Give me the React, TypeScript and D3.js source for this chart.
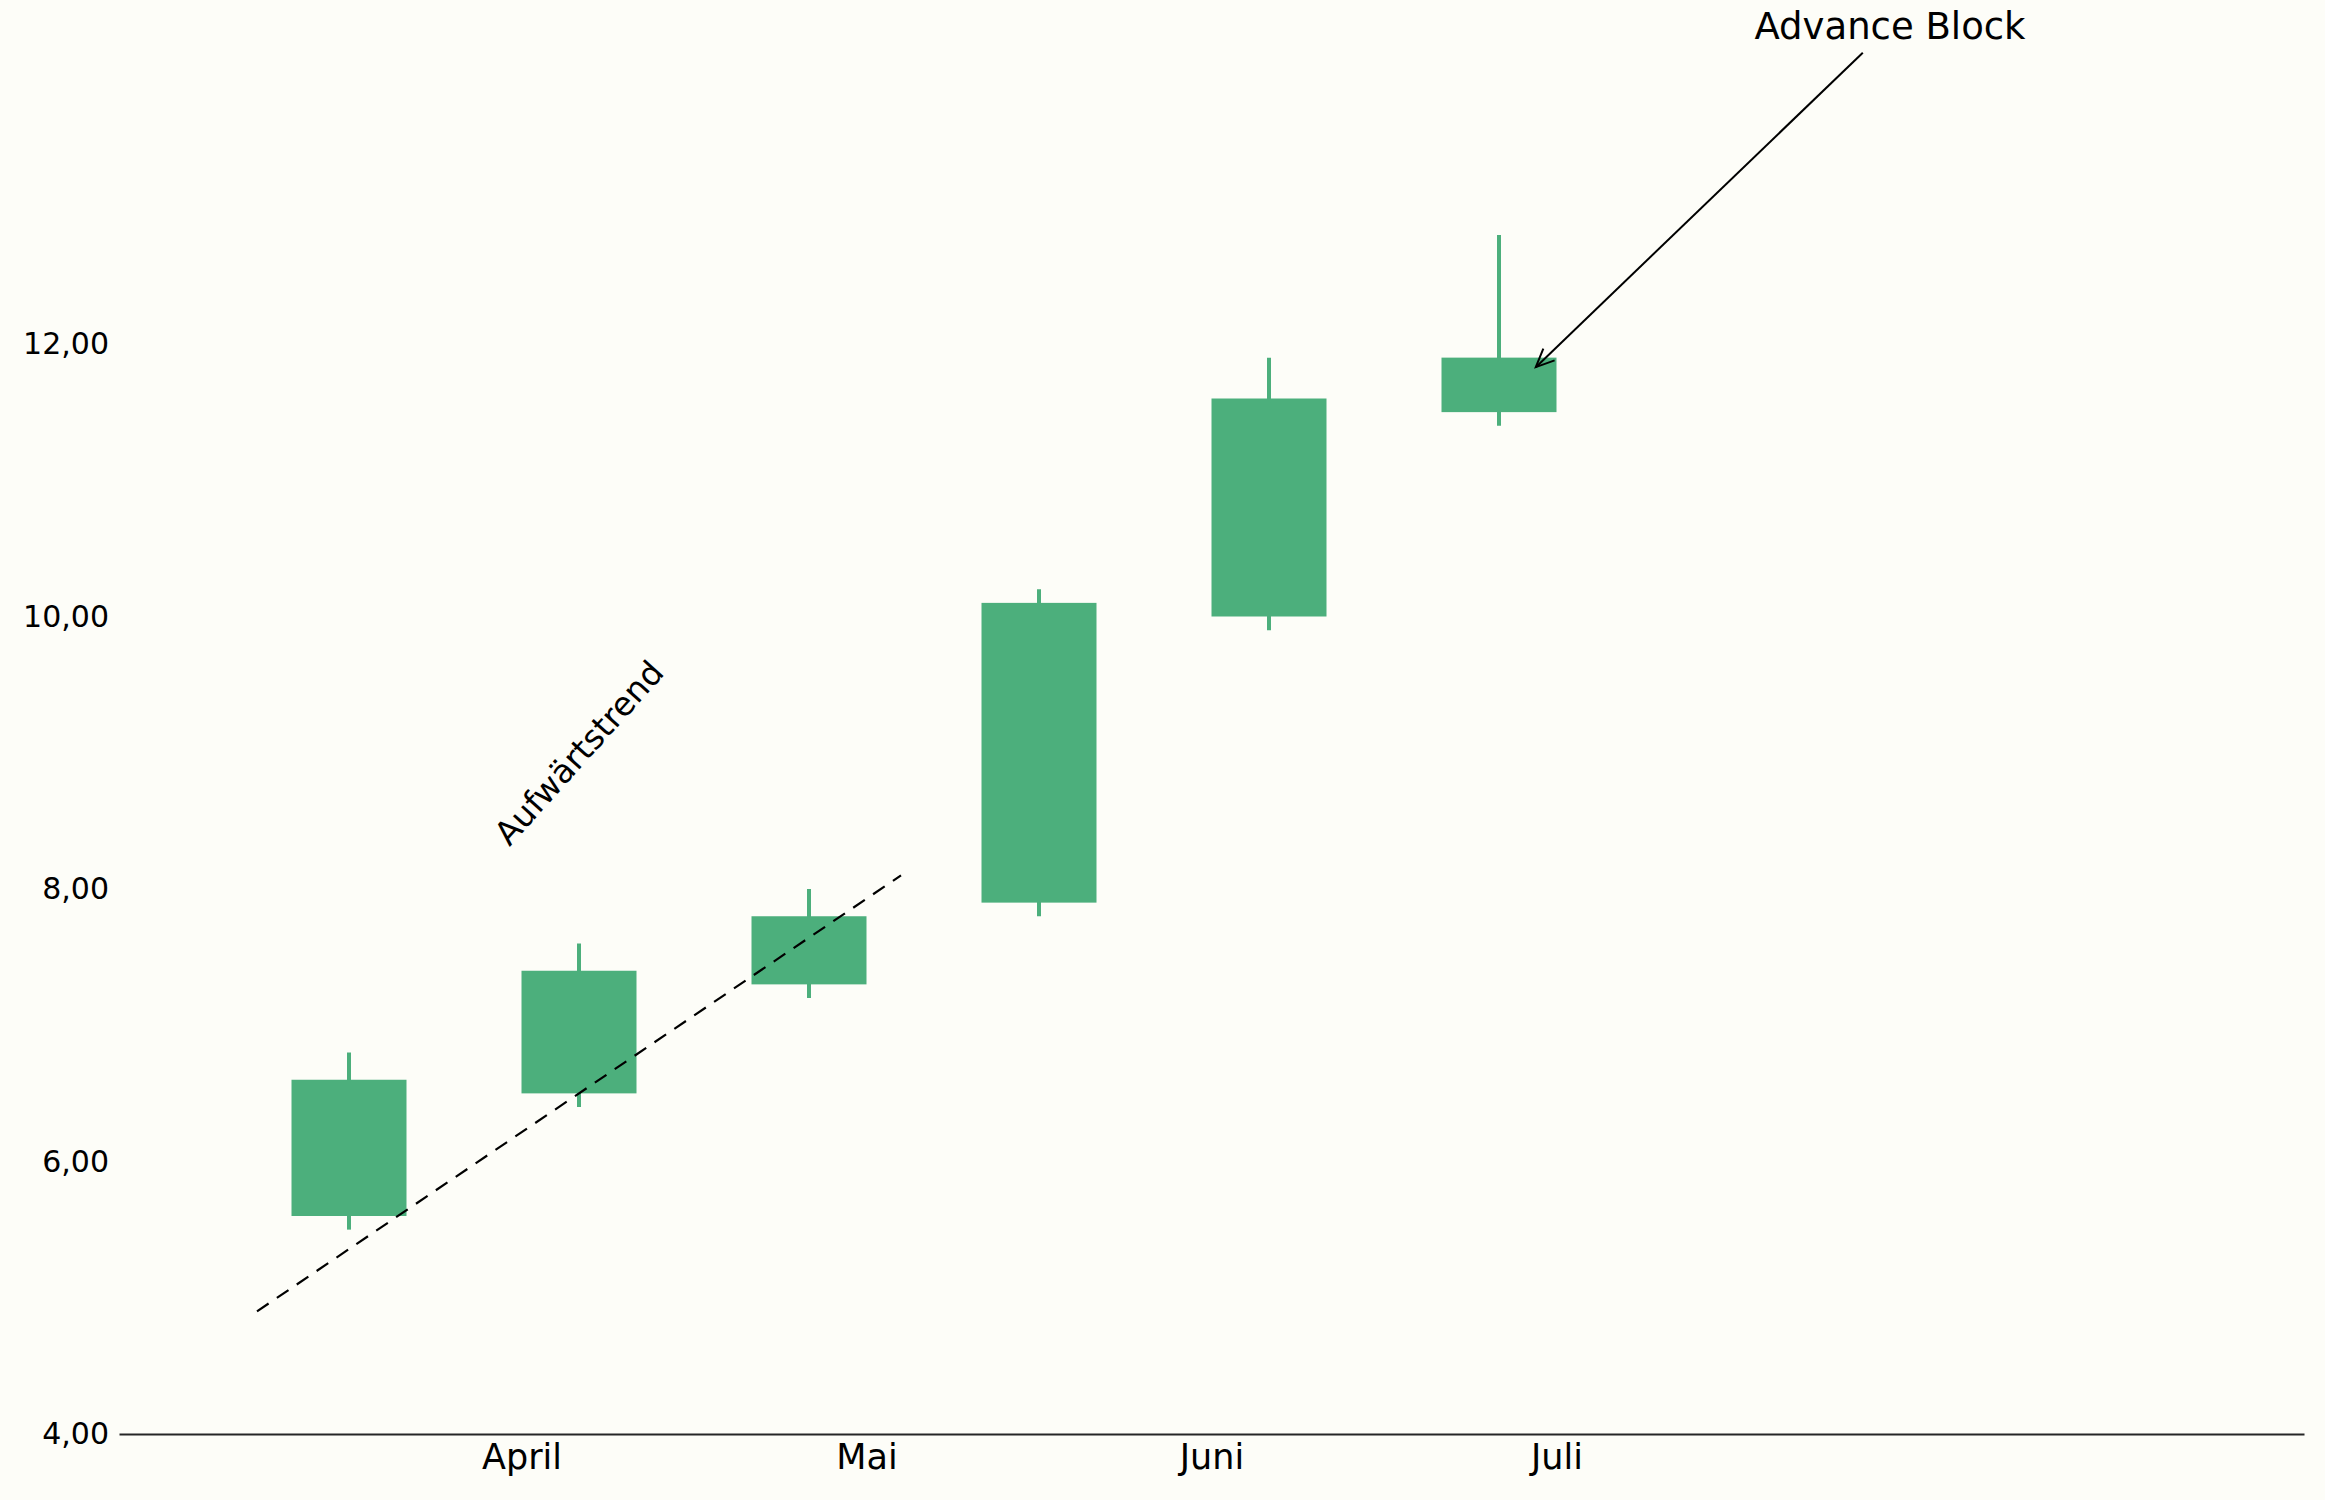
import React, { useRef, useEffect } from 'react'
import * as d3 from 'd3'

// candles (x = slot index)
const slots = [0, 1, 2, 3, 4, 5]
const opens = [5.6, 6.5, 7.3, 7.9, 10.0, 11.5]
const closes = [6.6, 7.4, 7.8, 10.1, 11.6, 11.9]
const highs = [6.8, 7.6, 8.0, 10.2, 11.9, 12.8]
const lows = [5.5, 6.4, 7.2, 7.8, 9.9, 11.4]

// month ticks
const monthTicks = [0.75, 2.25, 3.75, 5.25]
const monthLabels = ['April', 'Mai', 'Juni', 'Juli']
const yTicks = [4, 6, 8, 10, 12]

// uptrend helper line
const trendX = [-0.4, 2.4]
const trendY = [4.9, 8.1]

// annotations
const trendLabel = { text: 'Aufwärtstrend', x: 1.0, y: 9.0, angle: -48 }
const patternLabel = { text: 'Advance Block', x: 6.7, y: 14.33, tipX: 5.16, tipY: 11.83 }

const WIDTH = 2325
const HEIGHT = 1500
const GREEN = '#4caf7c'
const BG = '#fdfdf8'
const FONT = '"DejaVu Sans", sans-serif'

function App() {
  const svgRef = useRef(null)

  useEffect(() => {
    if (!svgRef.current) return
    const svg = d3.select(svgRef.current)
    svg.selectAll('*').remove()

    const x = d3.scaleLinear().domain([-1, 8.5]).range([119, 2304])
    const y = d3.scaleLinear().domain([4, 14]).range([1434, 71.5])

    svg.append('rect').attr('width', WIDTH).attr('height', HEIGHT).attr('fill', BG)

    const bodyW = x(0.5) - x(0)
    const data = slots.map((s, i) => ({ s, o: opens[i], c: closes[i], h: highs[i], l: lows[i] }))

    // wicks
    svg.append('g')
      .selectAll('line')
      .data(data)
      .enter()
      .append('line')
      .attr('x1', d => x(d.s))
      .attr('x2', d => x(d.s))
      .attr('y1', d => y(d.h))
      .attr('y2', d => y(d.l))
      .attr('stroke', GREEN)
      .attr('stroke-width', 4)

    // bodies
    svg.append('g')
      .selectAll('rect')
      .data(data)
      .enter()
      .append('rect')
      .attr('x', d => x(d.s) - bodyW / 2)
      .attr('width', bodyW)
      .attr('y', d => y(Math.max(d.o, d.c)))
      .attr('height', d => Math.abs(y(d.o) - y(d.c)))
      .attr('fill', GREEN)

    // trend line
    const line = d3.line().x(d => x(d[0])).y(d => y(d[1]))
    svg.append('path')
      .attr('d', line(trendX.map((v, i) => [v, trendY[i]])))
      .attr('fill', 'none')
      .attr('stroke', '#000')
      .attr('stroke-width', 2.2)
      .attr('stroke-dasharray', '14,10')

    // axes
    const de = d3.formatLocale({ decimal: ',', thousands: '.', grouping: [3], currency: ['', '€'] })
    const fmt = de.format('.2f')

    const xAxis = svg.append('g')
      .attr('transform', `translate(0, ${y(4)})`)
      .call(d3.axisBottom(x).tickValues(monthTicks).tickFormat((d, i) => monthLabels[i]).tickSize(0).tickSizeOuter(0).tickPadding(10))
    xAxis.select('.domain').attr('stroke', '#262626').attr('stroke-width', 2)
    xAxis.selectAll('text').attr('font-size', 35).attr('font-family', FONT).attr('fill', '#000')

    const yAxis = svg.append('g')
      .attr('transform', `translate(119, 0)`)
      .call(d3.axisLeft(y).tickValues(yTicks).tickFormat(d => fmt(d)).tickSize(0).tickPadding(10))
    yAxis.select('.domain').remove()
    yAxis.selectAll('text').attr('font-size', 30).attr('font-family', FONT).attr('fill', '#000')

    // rotated trend label
    svg.append('text')
      .attr('transform', `translate(${x(trendLabel.x)}, ${y(trendLabel.y)}) rotate(${trendLabel.angle})`)
      .attr('text-anchor', 'middle')
      .attr('dominant-baseline', 'central')
      .attr('font-size', 33)
      .attr('font-family', FONT)
      .text(trendLabel.text)

    // pattern annotation with arrow
    const tx = x(patternLabel.x)
    const ty = y(patternLabel.y)
    svg.append('text')
      .attr('x', tx)
      .attr('y', ty)
      .attr('text-anchor', 'middle')
      .attr('dominant-baseline', 'central')
      .attr('font-size', 37)
      .attr('font-family', FONT)
      .text(patternLabel.text)

    const px = x(patternLabel.tipX)
    const py = y(patternLabel.tipY)
    const dx = px - tx
    const dy = py - ty
    const len = Math.hypot(dx, dy)
    const ux = dx / len
    const uy = dy / len
    const t0 = 22 / uy + 6
    const sx = tx + ux * t0
    const sy = ty + uy * t0
    svg.append('line')
      .attr('x1', sx).attr('y1', sy)
      .attr('x2', px).attr('y2', py)
      .attr('stroke', '#000')
      .attr('stroke-width', 2)

    const head = 20
    const ang = Math.atan2(-uy, -ux)
    const spread = (24 * Math.PI) / 180
    const headPts = [ang - spread, ang + spread].map(a => [px + head * Math.cos(a), py + head * Math.sin(a)])
    svg.append('path')
      .attr('d', `M${headPts[0][0]},${headPts[0][1]}L${px},${py}L${headPts[1][0]},${headPts[1][1]}`)
      .attr('fill', 'none')
      .attr('stroke', '#000')
      .attr('stroke-width', 2)
  }, [])

  return (
    <div style={{ position: 'absolute', left: 0, top: 0 }}>
      <svg ref={svgRef} width={WIDTH} height={HEIGHT} style={{ display: 'block' }}></svg>
    </div>
  )
}

export default App
